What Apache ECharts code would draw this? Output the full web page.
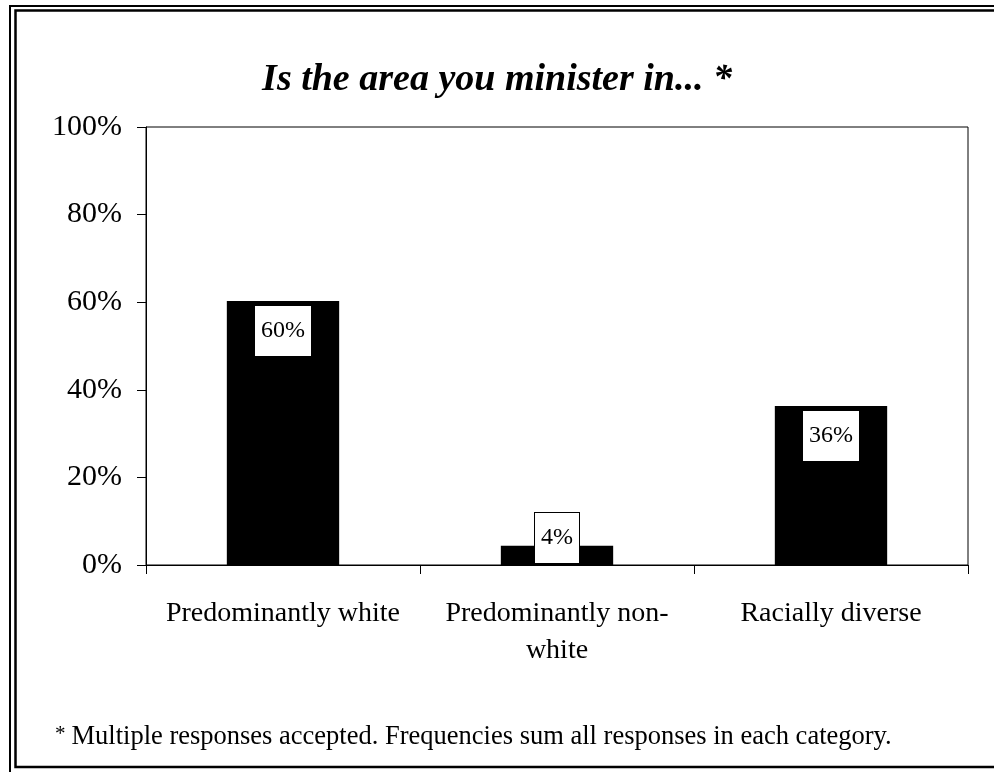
<!DOCTYPE html>
<html>
<head>
<meta charset="utf-8">
<script src="https://cdn.jsdelivr.net/npm/echarts@6/dist/echarts.min.js"></script>
<style>
  html, body { margin: 0; padding: 0; background: #fff; }
  #chart { width: 994px; height: 772px; }
</style>
</head>
<body>
<div id="chart"></div>
<script>
// Data
const categories = ['Predominantly white', 'Predominantly non-white', 'Racially diverse'];
const shares = [60.3, 4.4, 36.3];
const yTicks = [0, 20, 40, 60, 80, 100];

const serif = 'Liberation Serif, Times New Roman, serif';
const myChart = echarts.init(document.getElementById('chart'));

// small bars get their label sitting on the baseline (like Excel does)
const barData = shares.map(v => v < 10
    ? { value: v, label: { position: 'insideBottom', distance: 2 } }
    : v);

let option = {
    backgroundColor: '#fff',
    animation: false,
    title: [
        {
            text: 'Is the area you minister in... *',
            left: 'center',
            top: 56,
            textStyle: {
                fontFamily: serif,
                fontSize: 38,
                fontWeight: 'bold',
                fontStyle: 'italic',
                color: '#000'
            }
        },
        {
            text: '{s|*} {t|Multiple responses accepted. Frequencies sum all responses in each category.}',
            left: 50,
            top: 719,
            textStyle: {
                fontFamily: serif,
                fontSize: 24,
                fontWeight: 'normal',
                color: '#000',
                rich: {
                    s: { fontFamily: serif, fontSize: 21, fontWeight: 'normal', verticalAlign: 'top', color: '#000' },
                    t: { fontFamily: serif, fontSize: 26.5, fontWeight: 'normal', color: '#000' }
                }
            }
        }
    ],
    // double frame round the whole picture
    graphic: [
        {
            type: 'rect',
            shape: { x: 10, y: 6, width: 1000, height: 800 },
            style: { fill: 'none', stroke: '#000', lineWidth: 2 }
        },
        {
            type: 'rect',
            shape: { x: 15.5, y: 10.5, width: 1000, height: 756.5 },
            style: { fill: 'none', stroke: '#000', lineWidth: 2.5 }
        }
    ],
    grid: {
        left: 146,
        right: 26,
        top: 127,
        bottom: 207,
        show: true,
        borderColor: '#000',
        borderWidth: 1,
        backgroundColor: 'transparent'
    },
    xAxis: {
        type: 'category',
        data: categories,
        axisLine: { lineStyle: { color: '#000', width: 1 } },
        axisTick: { show: true, length: 9, lineStyle: { color: '#000' } },
        axisLabel: {
            color: '#000',
            fontFamily: serif,
            fontSize: 28,
            lineHeight: 37,
            margin: 30,
            interval: 0,
            formatter: function (value) {
                return value.replace('non-white', 'non-\nwhite');
            }
        }
    },
    yAxis: {
        type: 'value',
        min: yTicks[0],
        max: yTicks[yTicks.length - 1],
        interval: yTicks[1] - yTicks[0],
        axisLine: { show: true, lineStyle: { color: '#000', width: 1 } },
        axisTick: { show: true, length: 9, lineStyle: { color: '#000' } },
        splitLine: { show: false },
        axisLabel: {
            color: '#000',
            fontFamily: serif,
            fontSize: 30,
            margin: 24,
            formatter: '{value}%'
        }
    },
    series: [
        {
            type: 'bar',
            data: barData,
            barWidth: '41%',
            itemStyle: { color: '#000' },
            label: {
                show: true,
                position: 'insideTop',
                distance: 5,
                formatter: function (p) {
                    return Math.round(p.value) + '%';
                },
                fontFamily: serif,
                fontSize: 24,
                lineHeight: 24,
                color: '#000',
                backgroundColor: '#fff',
                borderColor: '#000',
                borderWidth: 1,
                padding: [13, 6]
            }
        }
    ]
};

myChart.setOption(option);
</script>
</body>
</html>
